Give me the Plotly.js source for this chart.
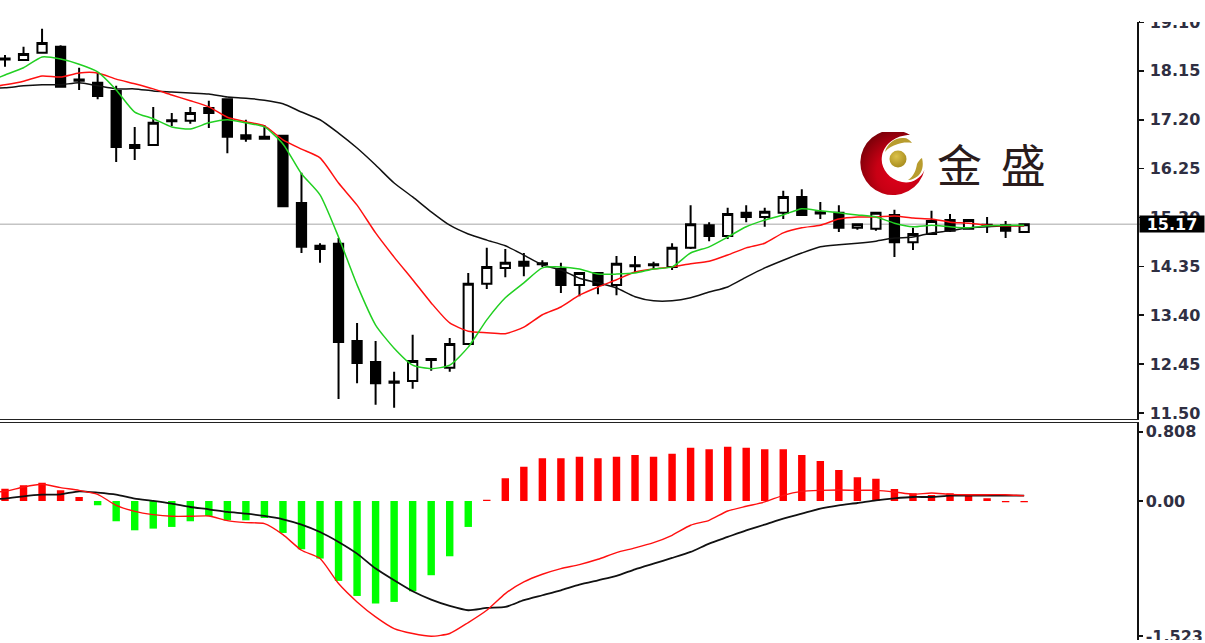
<!DOCTYPE html>
<html><head><meta charset="utf-8">
<script src="https://cdn.plot.ly/plotly-3.0.1.min.js"></script>
<style>html,body{margin:0;padding:0;background:#fff}#c{width:1205px;height:643px}</style>
</head><body><div id="c"></div>
<script>
const barIndex = [0,1,2,3,4,5,6,7,8,9,10,11,12,13,14,15,16,17,18,19,20,21,22,23,24,25,26,27,28,29,30,31,32,33,34,35,36,37,38,39,40,41,42,43,44,45,46,47,48,49,50,51,52,53,54,55];
const lineIndex = [-1].concat(barIndex);
const open = [18.39,18.36,18.50,18.62,17.98,17.92,17.76,16.65,16.71,17.19,
 17.18,17.43,17.60,16.90,16.83,16.89,15.58,14.75,14.79,12.90,
 12.49,12.11,12.12,12.55,12.38,12.84,14.01,14.32,14.44,14.41,
 14.30,13.99,14.22,13.99,14.37,14.39,14.34,14.71,15.15,14.94,
 15.39,15.31,15.39,15.70,15.40,15.39,15.10,15.08,15.35,14.82,
 14.98,15.25,15.08,15.16,15.15,15.02];
const high = [18.46,18.62,18.97,18.65,18.21,18.11,17.86,17.06,17.45,17.33,
 17.45,17.57,17.60,17.20,17.10,16.90,16.17,14.80,14.90,13.25,
 12.90,12.30,13.02,12.55,12.96,14.22,14.71,14.69,14.61,14.47,
 14.42,14.22,14.22,14.55,14.55,14.44,14.80,15.54,15.21,15.49,
 15.54,15.49,15.82,15.85,15.60,15.54,15.19,15.39,15.45,15.10,
 15.43,15.37,15.25,15.31,15.23,15.19];
const low = [18.23,18.36,18.50,17.84,17.78,17.60,16.38,16.42,16.71,17.08,
 17.12,17.04,16.55,16.77,16.83,15.50,14.61,14.42,11.77,12.08,
 11.66,11.60,11.97,12.32,12.30,12.84,13.91,14.14,14.16,14.34,
 13.83,13.77,13.81,13.79,14.22,14.30,14.28,14.69,14.84,14.88,
 15.21,15.12,15.27,15.33,15.27,15.02,15.06,15.04,14.53,14.67,
 14.98,15.02,15.06,15.00,14.90,15.02];
const close = [18.37,18.48,18.69,17.84,17.96,17.66,16.67,16.71,17.14,17.17,
 17.33,17.33,16.87,16.83,16.87,15.52,14.73,14.69,12.88,12.47,
 12.08,12.09,12.51,12.53,12.84,14.01,14.34,14.42,14.36,14.39,
 13.99,14.22,13.99,14.40,14.35,14.37,14.71,15.17,14.94,15.37,
 15.31,15.41,15.70,15.35,15.38,15.10,15.17,15.39,14.82,14.98,
 15.23,15.04,15.25,15.15,15.04,15.17];
const maFast = [17.93,18.07,18.21,18.42,18.38,18.28,18.13,17.78,17.35,17.22,17.06,
 17.02,17.14,17.20,17.14,17.06,16.73,16.15,15.74,14.92,13.99,
 13.21,12.76,12.43,12.36,12.43,12.78,13.31,13.74,14.03,14.32,
 14.34,14.30,14.20,14.20,14.22,14.30,14.34,14.61,14.73,14.92,
 15.12,15.25,15.35,15.47,15.43,15.39,15.35,15.31,15.19,15.12,
 15.15,15.12,15.10,15.14,15.15,15.15];
const maMid = [17.82,17.88,17.95,18.05,18.03,18.11,18.11,17.99,17.90,17.80,17.68,
 17.57,17.45,17.25,17.16,17.08,16.81,16.63,16.46,15.97,15.54,
 15.00,14.53,14.09,13.64,13.25,13.09,13.06,13.04,13.17,13.41,
 13.56,13.79,13.95,14.09,14.24,14.30,14.34,14.40,14.45,14.57,
 14.71,14.80,15.00,15.10,15.15,15.27,15.31,15.31,15.33,15.29,
 15.27,15.21,15.19,15.15,15.14,15.14];
const maSlow = [17.82,17.82,17.86,17.88,17.88,17.92,17.86,17.80,17.80,17.76,17.74,
 17.72,17.70,17.64,17.62,17.58,17.51,17.35,17.20,16.94,16.65,
 16.32,15.97,15.70,15.41,15.15,14.98,14.86,14.75,14.57,14.38,
 14.28,14.12,14.03,13.93,13.76,13.68,13.68,13.74,13.85,13.95,
 14.14,14.32,14.47,14.61,14.73,14.77,14.80,14.84,14.90,14.92,
 15.00,15.04,15.10,15.12,15.14,15.14];
const histUp = [.139,.177,.207,.12,.045,null,null,null,null,null,
 null,null,null,null,null,null,null,null,null,null,
 null,null,null,null,null,null,.015,.256,.387,.481,
 .481,.50,.481,.50,.519,.50,.534,.60,.583,.613,
 .60,.583,.583,.519,.451,.35,.267,.252,.135,.086,
 .068,.086,.068,.03,-.015,-.015];
const histDown = [null,null,null,null,null,-.049,-.229,-.331,-.312,-.293,
 -.229,-.169,-.218,-.218,-.192,-.361,-.545,-.65,-.902,-1.072,
 -1.158,-1.139,-1.019,-.838,-.624,-.293,null,null,null,null];
const signalRed = [.10,.109,.158,.188,.15,.12,.075,-.049,-.117,-.154,-.173,
 -.173,-.169,-.222,-.244,-.256,-.38,-.556,-.65,-.932,-1.139,
 -1.308,-1.44,-1.496,-1.527,-1.496,-1.372,-1.233,-1.045,-.914,-.827,
 -.763,-.718,-.658,-.583,-.53,-.47,-.387,-.274,-.218,-.113,
 -.06,-.011,.064,.109,.12,.124,.12,.12,.102,.075,
 .09,.075,.071,.071,.071,.06];
const signalBlack = [.026,.026,.053,.071,.075,.109,.094,.071,.026,0,-.03,
 -.068,-.094,-.124,-.143,-.169,-.207,-.267,-.35,-.462,-.594,
 -.763,-.895,-1.019,-1.113,-1.184,-1.233,-1.207,-1.196,-1.12,-1.064,
 -1.008,-.944,-.895,-.846,-.771,-.707,-.643,-.575,-.481,-.406,
 -.331,-.267,-.199,-.143,-.086,-.049,-.023,.008,.03,.045,
 .045,.06,.06,.06,.06,.06];
const priceTicks = [11.50,12.45,13.40,14.35,15.30,16.25,17.20,18.15,19.10];
const priceTickText = ['11.50','12.45','13.40','14.35','15.30','16.25','17.20','18.15','19.10'];
const macdTicks = [-1.523,0,0.78];
const macdTickText = ['-1.523','0.00','0.808'];
const lastPrice = 15.17;

const W=1205,H=643,px=v=>v/W,py=v=>1-v/H;
const logo = `<svg xmlns="http://www.w3.org/2000/svg" viewBox="0 0 65 65" width="65" height="65">
<defs><radialGradient id="r" cx="0.6" cy="0.65" r="0.7"><stop offset="0" stop-color="#e2001c"/><stop offset="0.5" stop-color="#c80014"/><stop offset="1" stop-color="#760008"/></radialGradient>
<radialGradient id="g" cx="0.4" cy="0.35" r="0.7"><stop offset="0" stop-color="#dcc24a"/><stop offset="1" stop-color="#a58a1c"/></radialGradient></defs>
<path d="M50 3 A32.5 32.5 0 1 0 64.5 38 C60 48 50 52 42 50 C28 47 20 35 22 24 C24 12 36 3 50 3 Z" fill="url(#r)"/>
<circle cx="38" cy="27" r="8.5" fill="url(#g)"/>
<path d="M25 20 C27 11 36 5 44 6 C47 6 50 8 52 11 C46 10 41 11 38 12 C32 14 28 16 25 20 Z" fill="#b89c2e"/>
<path d="M48 48 C54 44 56 38 57 32 C58 30 60 27 62 26 C64 34 62 40 58 44 C55 46 52 48 48 48 Z" fill="#b89c2e"/>
</svg>`;

const common={hoverinfo:'skip',showlegend:false};
const line=(y,color,xa,ya,w)=>Object.assign({type:'scatter',mode:'lines',x:lineIndex,y,xaxis:xa,yaxis:ya,line:{color,width:w||1.5,shape:'spline',smoothing:0.6}},common);
const data=[
 Object.assign({type:'candlestick',x:barIndex,open,high,low,close,xaxis:'x',yaxis:'y',whiskerwidth:0,
  line:{width:2},
  increasing:{line:{color:'#000',width:2},fillcolor:'#fff'},
  decreasing:{line:{color:'#000',width:2},fillcolor:'#000'}},common),
 line(maSlow,'#111','x','y'),
 line(maMid,'#ff1010','x','y'),
 line(maFast,'#22d022','x','y'),
 Object.assign({type:'bar',x:barIndex,y:histDown,width:0.4,xaxis:'x2',yaxis:'y2',marker:{color:'#00ff00',line:{width:0}}},common),
 Object.assign({type:'bar',x:barIndex,y:histUp,width:0.4,xaxis:'x2',yaxis:'y2',marker:{color:'#ff0000',line:{width:0}}},common),
 line(signalBlack,'#111','x2','y2',1.8),
 line(signalRed,'#ff1010','x2','y2',1.4)
];
const xr=[-5/18.53,(1136.5-5)/18.53];
const tickFont={family:'"DejaVu Sans"',size:16,color:'#2f2f42',weight:700};
const yCommon={side:'right',showgrid:false,zeroline:false,showline:true,linecolor:'#111',linewidth:2,ticks:'outside',tickwidth:1.5,tickcolor:'#111',tickfont:tickFont,tickmode:'array',fixedrange:true,ticklabeloverflow:'allow'};
const xCommon={range:xr,showgrid:false,zeroline:false,showticklabels:false,ticks:'',showline:true,linecolor:'#222',linewidth:1.4,fixedrange:true};
const layout={width:W,height:H,margin:{l:0,r:0,t:0,b:0,pad:0},paper_bgcolor:'#fff',plot_bgcolor:'#fff',showlegend:false,
 boxmode:'overlay',boxgap:0.5,boxgroupgap:0,barmode:'overlay',
 xaxis:Object.assign({},xCommon,{domain:[0,px(1136.5)],anchor:'y',rangeslider:{visible:false}}),
 xaxis2:Object.assign({},xCommon,{domain:[0,px(1136.5)],anchor:'y2',side:'top'}),
 yaxis:Object.assign({},yCommon,{domain:[py(418.6),py(22)],anchor:'x',range:[11.391,19.10],tickvals:priceTicks,ticktext:priceTickText,ticklen:5,ticklabelstandoff:3}),
 yaxis2:Object.assign({},yCommon,{domain:[py(640),py(423)],anchor:'x2',range:[-1.569,0.880],tickvals:macdTicks,ticktext:macdTickText,ticklen:4,ticklabelstandoff:0}),
 shapes:[
  {type:'line',xref:'paper',yref:'y',x0:0,x1:px(1140),y0:lastPrice,y1:lastPrice,layer:'below',line:{color:'#c4c4c4',width:1.5}},
  {type:'rect',xref:'paper',yref:'paper',x0:px(1140),x1:1,y0:py(22),y1:1,layer:'above',fillcolor:'#fff',line:{width:0}},
  {type:'rect',xref:'paper',yref:'paper',x0:px(1130),x1:1,y0:0,y1:py(640),layer:'above',fillcolor:'#fff',line:{width:0}}
 ],
 images:[{source:'data:image/svg+xml;charset=utf-8,'+encodeURIComponent(logo),xref:'paper',yref:'paper',x:px(860),y:py(132),sizex:px(65),sizey:65/H,xanchor:'left',yanchor:'top',sizing:'stretch',layer:'above'}],
 annotations:[
  {xref:'paper',yref:'paper',x:px(991),y:py(146),text:'金<span style="font-size:84px"> </span>盛',showarrow:false,xanchor:'center',yanchor:'middle',font:{family:'"Noto Sans CJK SC"',size:45,color:'#2a1c1c'}},
  {xref:'paper',yref:'y',x:1,y:lastPrice,text:'<b>15.17</b>',showarrow:false,xanchor:'right',yanchor:'middle',width:64,height:16,bgcolor:'#000',borderpad:0,align:'center',font:{family:'"DejaVu Sans"',size:16,color:'#fff'}}
 ]
};
Plotly.newPlot('c',data,layout,{displayModeBar:false,staticPlot:true});
</script></body></html>
